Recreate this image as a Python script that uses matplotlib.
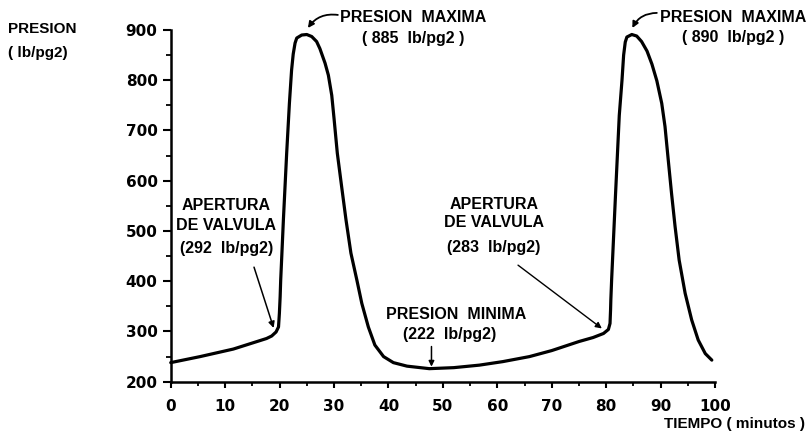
import matplotlib
matplotlib.use("Agg")
import matplotlib.pyplot as plt
from matplotlib.ticker import MultipleLocator

# ---- data ----
tiempo = [0, 5.4, 11.5, 17.6, 18.55, 19.35, 19.8, 19.96, 20.1, 20.2, 20.4, 20.7, 21.3,
          21.8, 22.2, 22.5, 22.84, 23.15, 24.07, 24.99, 25.9, 26.8, 27.4, 28.35, 28.96,
          29.58, 30.0, 30.6, 31.4, 32.2, 33.1, 34.2, 35.1, 36.3, 37.5, 39.1, 40.9,
          43.4, 47.5, 52.0, 56.7, 61.0, 65.9, 70.0, 75.0, 77.6, 79.5, 80.4, 80.7,
          80.8, 80.85, 81.0, 81.7, 82.4, 82.9, 83.2, 83.5, 83.8, 84.7, 85.6, 86.5,
          87.5, 88.4, 89.3, 90.2, 90.8, 91.4, 92.0, 92.65, 93.4, 94.5, 95.7, 96.9,
          98.2, 99.4]
presion = [238, 250, 265, 286, 291, 299, 309, 336, 369, 402, 450, 523, 655,
           754, 820, 852, 874, 884, 890, 891, 887, 877, 863, 834, 810,
           770, 724, 655, 588, 522, 456, 402, 356, 309, 273, 250, 238,
           231, 226, 228, 233, 240, 250, 262, 280, 288, 296, 304, 316,
           343, 363, 404, 570, 730, 800, 850, 876, 886, 891, 888, 877,
           858, 832, 799, 754, 708, 641, 575, 509, 442, 376, 323, 283,
           256, 243]

x_ticks = [0, 10, 20, 30, 40, 50, 60, 70, 80, 90, 100]
y_ticks = [200, 300, 400, 500, 600, 700, 800, 900]

FONT_NUM = "DejaVu Sans"
FONT_TXT = "Liberation Sans"

fig = plt.figure(figsize=(8.08, 4.36), dpi=100)
ax = fig.add_axes([0.2113, 0.1245, 0.6737, 0.8067])

ax.plot(tiempo, presion, color="black", lw=2.3, solid_joinstyle="round",
        solid_capstyle="round", clip_on=False)

ax.set_xlim(0, 100)
ax.set_ylim(200, 900)
ax.set_xticks(x_ticks)
ax.set_yticks(y_ticks)
ax.set_xticklabels([str(v) for v in x_ticks], fontfamily=FONT_NUM, fontweight="bold", fontsize=11)
ax.set_yticklabels([str(v) for v in y_ticks], fontfamily=FONT_NUM, fontweight="bold", fontsize=11)
ax.xaxis.set_minor_locator(MultipleLocator(5))
ax.yaxis.set_minor_locator(MultipleLocator(50))

for s in ["top", "right"]:
    ax.spines[s].set_visible(False)
for s in ["left", "bottom"]:
    ax.spines[s].set_linewidth(1.8)

ax.tick_params(axis="y", which="major", direction="out", length=6, width=1.5, pad=3.5)
ax.tick_params(axis="y", which="minor", direction="out", length=3.5, width=1.3)
ax.tick_params(axis="x", which="major", direction="out", length=4.5, width=1.5, pad=8)
ax.tick_params(axis="x", which="minor", direction="out", length=3, width=1.3)

tkw = dict(fontfamily=FONT_TXT, fontweight="bold", fontsize=11.5, ha="center",
           va="center", clip_on=False)

# Apertura de valvula 1
ax.text(10.2, 550, "APERTURA", **tkw)
ax.text(10.2, 510, "DE VALVULA", **tkw)
ax.text(10.2, 466, "(292  lb/pg2)", **tkw)
ax.annotate("", xy=(18.9, 307), xytext=(15.3, 428),
            arrowprops=dict(arrowstyle="-|>", lw=1.1, color="black", mutation_scale=9,
                            shrinkA=0, shrinkB=0))

# Presion maxima 1
ax.text(44.5, 924, "PRESION  MAXIMA", **tkw)
ax.text(44.5, 884, "( 885  lb/pg2 )", **tkw)
ax.annotate("", xy=(25.2, 904), xytext=(30.7, 930), annotation_clip=False,
            arrowprops=dict(arrowstyle="-|>", lw=1.3, color="black", mutation_scale=9,
                            connectionstyle="arc3,rad=0.3", shrinkA=0, shrinkB=0))

# Presion minima
ax.text(52.4, 333, "PRESION  MINIMA", **tkw)
ax.text(51.3, 293, "(222  lb/pg2)", **tkw)
ax.annotate("", xy=(47.9, 230), xytext=(47.9, 270),
            arrowprops=dict(arrowstyle="-|>", lw=1.1, color="black", mutation_scale=8,
                            shrinkA=0, shrinkB=0))

# Apertura de valvula 2
ax.text(59.4, 552, "APERTURA", **tkw)
ax.text(59.4, 516, "DE VALVULA", **tkw)
ax.text(59.4, 468, "(283  lb/pg2)", **tkw)
ax.annotate("", xy=(79.2, 306), xytext=(63.8, 432),
            arrowprops=dict(arrowstyle="-|>", lw=1.0, color="black", mutation_scale=9,
                            shrinkA=0, shrinkB=0))

# Presion maxima 2
ax.text(103.3, 925, "PRESION  MAXIMA", **tkw)
ax.text(103.3, 885, "( 890  lb/pg2 )", **tkw)
ax.annotate("", xy=(84.8, 904), xytext=(89.3, 934), annotation_clip=False,
            arrowprops=dict(arrowstyle="-|>", lw=1.3, color="black", mutation_scale=9,
                            connectionstyle="arc3,rad=0.3", shrinkA=0, shrinkB=0))

# Axis titles
fig.text(8 / 808, 1 - 29 / 436, "PRESION", fontfamily=FONT_TXT, fontweight="bold",
         fontsize=11, ha="left", va="center")
fig.text(8 / 808, 1 - 53 / 436, "( lb/pg2)", fontfamily=FONT_TXT, fontweight="bold",
         fontsize=11, ha="left", va="center")
fig.text(805 / 808, 1 - 424 / 436, "TIEMPO ( minutos )", fontfamily=FONT_TXT,
         fontweight="bold", fontsize=11, ha="right", va="center")

fig.savefig("out.png", dpi=100)
